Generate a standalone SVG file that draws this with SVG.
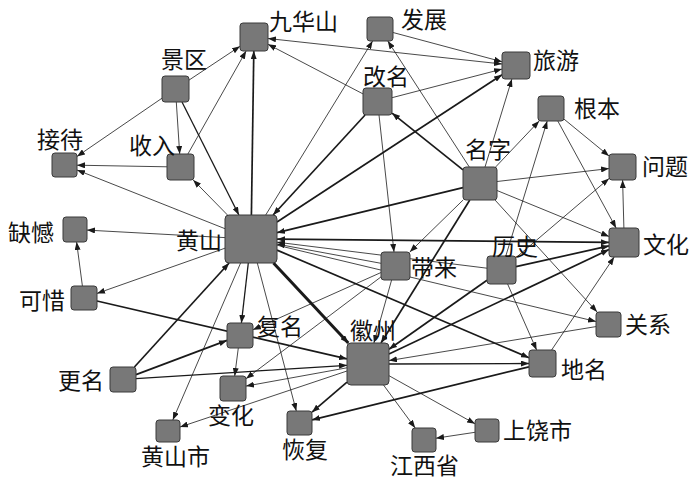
<svg xmlns="http://www.w3.org/2000/svg" width="700" height="481" viewBox="0 0 700 481">
<defs>
<marker id="ah" markerUnits="userSpaceOnUse" markerWidth="8" markerHeight="6" refX="8" refY="3" orient="auto-start-reverse">
<path d="M0,0 L8,3 L0,6 z" fill="#1a1a1a"/>
</marker>
</defs>
<style>
.e line{stroke:#1a1a1a;fill:none;marker-end:url(#ah)}
.t{stroke-width:0.8}
.m{stroke-width:1.3}
.k{stroke-width:1.7}
.x{stroke-width:3}
.b{marker-start:url(#ah)}
.n rect{fill:#787878;stroke:#3a3a3a;stroke-width:1}
.n text{font-family:"Noto Sans CJK SC","Noto Sans CJK JP",sans-serif;font-size:23px;fill:#111}
</style>
<rect width="700" height="481" fill="#fff"/>
<g id="edges" class="e">
<line class="t" x1="189" y1="80.1" x2="240" y2="46.3"/>
<line class="t" x1="162" y1="98.2" x2="77" y2="156.4"/>
<line class="t" x1="176.3" y1="102" x2="179.7" y2="154"/>
<line class="m" x1="182" y1="102" x2="238.9" y2="215"/>
<line class="t" x1="187.9" y1="154" x2="246.1" y2="51"/>
<line class="t" x1="167" y1="166.8" x2="77" y2="165.2"/>
<line class="t" x1="227.5" y1="215" x2="193.2" y2="180"/>
<line class="t" x1="225" y1="228.7" x2="77" y2="170"/>
<line class="k" x1="251.4" y1="215" x2="253.8" y2="51"/>
<line class="t" x1="363" y1="93.9" x2="268" y2="44.3"/>
<line class="t b" x1="268" y1="38.5" x2="502" y2="64"/>
<line class="t" x1="265.7" y1="215" x2="372.6" y2="41"/>
<line class="k" x1="365.1" y1="115" x2="273.1" y2="215"/>
<line class="k" x1="277" y1="222" x2="502" y2="74.7"/>
<line class="k" x1="463" y1="187.6" x2="277" y2="232.7"/>
<line class="k" x1="463" y1="169.9" x2="392" y2="113.1"/>
<line class="t" x1="469.3" y1="167" x2="387.8" y2="41"/>
<line class="t" x1="485" y1="167" x2="511.9" y2="79"/>
<line class="t" x1="495.6" y1="167" x2="539.2" y2="121"/>
<line class="t" x1="497" y1="181.5" x2="609" y2="168.6"/>
<line class="t" x1="497" y1="190.5" x2="609" y2="236.4"/>
<line class="t" x1="564" y1="119.1" x2="609" y2="156"/>
<line class="t" x1="557.8" y1="121" x2="616.1" y2="228"/>
<line class="t" x1="623.9" y1="228" x2="622.6" y2="180"/>
<line class="t" x1="393" y1="32.5" x2="502" y2="61.7"/>
<line class="t" x1="392" y1="97.7" x2="502" y2="69.1"/>
<line class="t" x1="379" y1="115" x2="394" y2="252"/>
<line class="t" x1="505.8" y1="256" x2="547.2" y2="121"/>
<line class="t" x1="516" y1="257.6" x2="609" y2="178.5"/>
<line class="t" x1="495" y1="200" x2="597.1" y2="312"/>
<line class="t" x1="277" y1="245.2" x2="596" y2="321.5"/>
<line class="t" x1="487" y1="268.2" x2="277" y2="242.2"/>
<line class="t" x1="381" y1="263.3" x2="277" y2="244.1"/>
<line class="t" x1="551.6" y1="350" x2="614.2" y2="257"/>
<line class="t" x1="596" y1="326.6" x2="389" y2="360.6"/>
<line class="m" x1="389" y1="364" x2="529" y2="363.5"/>
<line class="k" x1="277" y1="250.1" x2="529" y2="357.7"/>
<line class="k" x1="529" y1="366.8" x2="312" y2="419.9"/>
<line class="k" x1="347" y1="382.1" x2="312" y2="412.2"/>
<line class="t" x1="257.3" y1="263" x2="296.3" y2="411"/>
<line class="m" x1="248.3" y1="263" x2="241.4" y2="323"/>
<line class="t" x1="240.6" y1="263" x2="172.8" y2="420"/>
<line class="k" x1="134.4" y1="367" x2="229.1" y2="263"/>
<line class="t" x1="225" y1="248.2" x2="97" y2="293.4"/>
<line class="t" x1="225" y1="237.6" x2="87" y2="230.1"/>
<line class="t" x1="82.4" y1="286" x2="76.6" y2="242"/>
<line class="k" x1="97" y1="301" x2="347" y2="358.9"/>
<line class="k" x1="136" y1="374.6" x2="227" y2="340.4"/>
<line class="m" x1="136" y1="378.7" x2="347" y2="365.3"/>
<line class="t" x1="238.3" y1="348" x2="234.7" y2="376"/>
<line class="t" x1="347" y1="367.8" x2="246" y2="386.1"/>
<line class="t" x1="381" y1="276.9" x2="246" y2="378.7"/>
<line class="t" x1="381" y1="272.5" x2="253" y2="329.7"/>
<line class="t" x1="391.6" y1="280" x2="373.9" y2="343"/>
<line class="k" x1="469.8" y1="200" x2="381" y2="343"/>
<line class="t" x1="463.1" y1="200" x2="409.8" y2="252"/>
<line class="k" x1="487" y1="280.2" x2="389" y2="349.2"/>
<line class="k" x1="389" y1="354" x2="609" y2="249.6"/>
<line class="k" x1="516" y1="266.7" x2="609" y2="245.9"/>
<line class="k b" x1="277" y1="239.2" x2="609" y2="242.4"/>
<line class="t" x1="507.6" y1="284" x2="536.6" y2="350"/>
<line class="x" x1="273.5" y1="263" x2="348.3" y2="343"/>
<line class="t" x1="347" y1="371" x2="180" y2="427"/>
<line class="t" x1="389" y1="375.7" x2="475" y2="423.8"/>
<line class="t" x1="383.5" y1="385" x2="415.2" y2="428"/>
<line class="t" x1="475" y1="432.3" x2="436" y2="438.2"/>
</g>
<g id="n-jiuhuashan" class="n"><rect x="240" y="23" width="28" height="28" rx="3"/><text x="269" y="30">九华山</text></g>
<g id="n-fazhan" class="n"><rect x="367" y="17" width="26" height="24" rx="3"/><text x="401" y="28">发展</text></g>
<g id="n-lvyou" class="n"><rect x="502" y="52" width="28" height="27" rx="3"/><text x="533" y="69">旅游</text></g>
<g id="n-jingqu" class="n"><rect x="162" y="76" width="27" height="26" rx="3"/><text x="161" y="68">景区</text></g>
<g id="n-gaiming" class="n"><rect x="363" y="88" width="29" height="27" rx="3"/><text x="363" y="85">改名</text></g>
<g id="n-genben" class="n"><rect x="538" y="96" width="26" height="25" rx="3"/><text x="574" y="117">根本</text></g>
<g id="n-jiedai" class="n"><rect x="52" y="153" width="25" height="24" rx="3"/><text x="37" y="148">接待</text></g>
<g id="n-shouru" class="n"><rect x="167" y="154" width="27" height="26" rx="3"/><text x="129" y="154">收入</text></g>
<g id="n-mingzi" class="n"><rect x="463" y="167" width="34" height="33" rx="3"/><text x="465" y="158">名字</text></g>
<g id="n-wenti" class="n"><rect x="609" y="154" width="27" height="26" rx="3"/><text x="642" y="175">问题</text></g>
<g id="n-quehan" class="n"><rect x="63" y="217" width="24" height="25" rx="3"/><text x="8" y="241">缺憾</text></g>
<g id="n-huangshan" class="n"><rect x="225" y="215" width="52" height="48" rx="4"/><text x="176" y="249">黄山</text></g>
<g id="n-wenhua" class="n"><rect x="609" y="228" width="30" height="29" rx="3"/><text x="643" y="253">文化</text></g>
<g id="n-dailai" class="n"><rect x="381" y="252" width="29" height="28" rx="3"/><text x="411" y="276">带来</text></g>
<g id="n-lishi" class="n"><rect x="487" y="256" width="29" height="28" rx="3"/><text x="492" y="255">历史</text></g>
<g id="n-kexi" class="n"><rect x="71" y="286" width="26" height="24" rx="3"/><text x="19" y="309">可惜</text></g>
<g id="n-guanxi" class="n"><rect x="596" y="312" width="25" height="25" rx="3"/><text x="625" y="333">关系</text></g>
<g id="n-fuming" class="n"><rect x="227" y="323" width="26" height="25" rx="3"/><text x="257" y="335">复名</text></g>
<g id="n-huizhou" class="n"><rect x="347" y="343" width="42" height="42" rx="4"/><text x="350" y="339">徽州</text></g>
<g id="n-diming" class="n"><rect x="529" y="350" width="27" height="27" rx="3"/><text x="561" y="378">地名</text></g>
<g id="n-gengming" class="n"><rect x="110" y="367" width="26" height="25" rx="3"/><text x="58" y="389">更名</text></g>
<g id="n-bianhua" class="n"><rect x="220" y="376" width="26" height="25" rx="3"/><text x="208" y="424">变化</text></g>
<g id="n-huifu" class="n"><rect x="287" y="411" width="25" height="24" rx="3"/><text x="282" y="458">恢复</text></g>
<g id="n-huangshanshi" class="n"><rect x="156" y="420" width="24" height="22" rx="3"/><text x="141" y="465">黄山市</text></g>
<g id="n-shangraoshi" class="n"><rect x="475" y="419" width="24" height="23" rx="3"/><text x="503" y="439">上饶市</text></g>
<g id="n-jiangxisheng" class="n"><rect x="412" y="428" width="24" height="24" rx="3"/><text x="390" y="474">江西省</text></g>
</svg>
